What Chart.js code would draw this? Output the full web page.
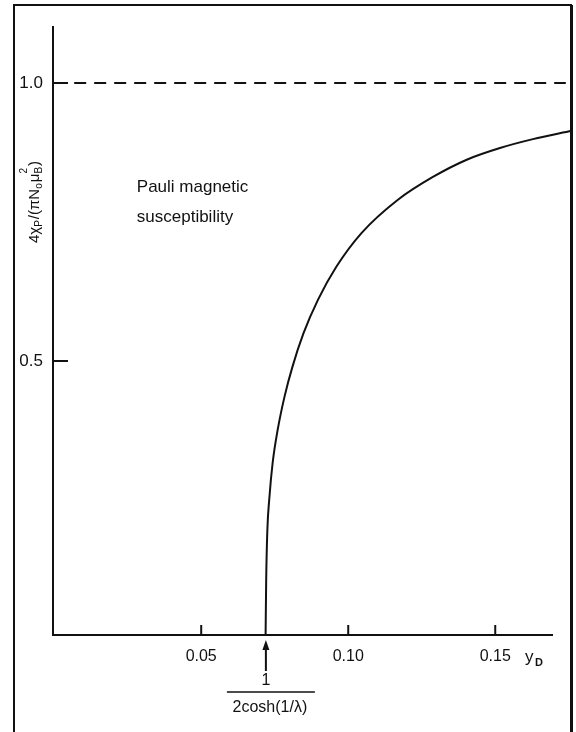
<!DOCTYPE html>
<html>
<head>
<meta charset="utf-8">
<script src="https://cdn.jsdelivr.net/npm/chart.js@4"></script>
<style>
  html, body { margin: 0; background: #fff; overflow: hidden; }
  #wrap { width: 576px; height: 732px; }
</style>
</head>
<body>
<div id="wrap"><canvas id="chart"></canvas></div>
<script>
// --- Data ---
const yD   = [0.0719, 0.0721, 0.0725, 0.0732, 0.0743, 0.0760, 0.0783, 0.0810, 0.0848,
              0.0897, 0.0959, 0.1045, 0.1169, 0.1288, 0.1403, 0.1516, 0.1628, 0.1760];
const chiP = [0.007, 0.106, 0.196, 0.255, 0.317, 0.376, 0.435, 0.489, 0.550,
              0.610, 0.669, 0.730, 0.790, 0.831, 0.862, 0.883, 0.899, 0.914];

const limitX = [0, 0.174];
const limitY = [1.0, 1.0];

const xTicks = [0.05, 0.10, 0.15];
const xTickLabels = ['0.05', '0.10', '0.15'];
const yTicks = [0.5, 1.0];
const yTickLabels = ['0.5', '1.0'];

const onset = 0.072;               // 1 / (2 cosh(1/λ))
const noteLines = ['Pauli magnetic', 'susceptibility'];

const FONT = "'Liberation Sans', 'DejaVu Sans', sans-serif";
const INK = '#111';

// --- Extra drawing: inside ticks, labels, arrow, frame ---
const decor = {
  id: 'decor',
  afterDraw(chart) {
    const ctx = chart.ctx;
    const { left, right, top, bottom } = chart.chartArea;
    const xs = chart.scales.x, ys = chart.scales.y;
    ctx.save();
    ctx.strokeStyle = INK;
    ctx.fillStyle = INK;
    ctx.lineWidth = 2;

    // inside tick marks
    xTicks.forEach(v => {
      const px = xs.getPixelForValue(v);
      ctx.beginPath(); ctx.moveTo(px, bottom); ctx.lineTo(px, bottom - 10); ctx.stroke();
    });
    yTicks.forEach(v => {
      const py = ys.getPixelForValue(v);
      ctx.beginPath(); ctx.moveTo(left, py); ctx.lineTo(left + 15, py); ctx.stroke();
    });

    // x axis title y_D
    ctx.textBaseline = 'alphabetic';
    ctx.textAlign = 'left';
    ctx.font = '17px ' + FONT;
    ctx.fillText('y', right - 27, 662);
    ctx.font = 'bold 11px ' + FONT;
    ctx.fillText('D', right - 17, 666);

    // arrow + 1/(2cosh(1/λ))
    const ax = xs.getPixelForValue(onset);
    ctx.beginPath(); ctx.moveTo(ax, bottom + 12); ctx.lineTo(ax, bottom + 36); ctx.stroke();
    ctx.beginPath();
    ctx.moveTo(ax, bottom + 5); ctx.lineTo(ax - 3.5, bottom + 15); ctx.lineTo(ax + 3.5, bottom + 15);
    ctx.closePath(); ctx.fill();
    ctx.textAlign = 'center';
    ctx.textBaseline = 'middle';
    ctx.font = '16px ' + FONT;
    ctx.fillText('1', ax, 681);
    ctx.lineWidth = 1.5;
    ctx.beginPath(); ctx.moveTo(ax - 39, 692); ctx.lineTo(ax + 49, 692); ctx.stroke();
    ctx.fillText('2cosh(1/λ)', ax + 4, 708);

    // annotation
    ctx.textAlign = 'left';
    ctx.font = '17px ' + FONT;
    ctx.fillText(noteLines[0], xs.getPixelForValue(0.0281), ys.getPixelForValue(0.813));
    ctx.fillText(noteLines[1], xs.getPixelForValue(0.0281), ys.getPixelForValue(0.759));

    // y axis title 4χP/(πNo μB^2), rotated
    const segs = [
      { t: '4χ' }, { t: 'P', sub: true }, { t: '/(πN' }, { t: 'o', sub: true },
      { t: 'μ' }, { t: 'B', sub: true, sup: '2' }, { t: ')' }
    ];
    const big = '15px ' + FONT, small = '10px ' + FONT;
    let w = 0;
    segs.forEach(s => { ctx.font = s.sub ? small : big; s.w = ctx.measureText(s.t).width + (s.sub ? 1 : 0); w += s.w; });
    ctx.save();
    ctx.translate(33, 202);
    ctx.rotate(-Math.PI / 2);
    ctx.textAlign = 'left';
    ctx.textBaseline = 'alphabetic';
    let cx = -w / 2;
    segs.forEach(s => {
      ctx.font = s.sub ? small : big;
      ctx.fillText(s.t, cx, s.sub ? 9 : 6);
      if (s.sup) ctx.fillText(s.sup, cx, -6);
      cx += s.w;
    });
    ctx.restore();

    // outer frame
    ctx.lineWidth = 2;
    ctx.beginPath();
    ctx.moveTo(14, 740); ctx.lineTo(14, 5); ctx.lineTo(572, 5);
    ctx.stroke();
    ctx.lineWidth = 3;
    ctx.beginPath(); ctx.moveTo(571.5, 5); ctx.lineTo(571.5, 740); ctx.stroke();
    ctx.restore();
  }
};

new Chart(document.getElementById('chart'), {
  type: 'line',
  data: {
    datasets: [
      {
        data: yD.map((x, i) => ({ x, y: chiP[i] })),
        borderColor: INK,
        borderWidth: 2,
        pointRadius: 0,
        cubicInterpolationMode: 'monotone',
        fill: false,
        clip: false
      },
      {
        data: limitX.map((x, i) => ({ x, y: limitY[i] })),
        borderColor: INK,
        borderWidth: 2,
        borderDash: [12, 8],
        pointRadius: 0,
        fill: false,
        clip: false
      }
    ]
  },
  options: {
    responsive: true,
    maintainAspectRatio: false,
    animation: false,
    layout: { padding: { left: 0, top: 27, right: 24, bottom: 0 } },
    plugins: { legend: { display: false }, tooltip: { enabled: false } },
    scales: {
      x: {
        type: 'linear',
        min: -0.0004,
        max: 0.1693,
        afterBuildTicks: s => { s.ticks = xTicks.map(v => ({ value: v })); },
        afterFit: s => { s.height = 97; },
        grid: { display: false, drawTicks: false },
        border: { display: true, color: INK, width: 2 },
        ticks: {
          autoSkip: false, maxRotation: 0, padding: 12, color: INK,
          font: { family: FONT, size: 16 },
          callback: (v, i) => xTickLabels[i]
        }
      },
      y: {
        min: 0.0072,
        max: 1.1007,
        afterBuildTicks: s => { s.ticks = yTicks.map(v => ({ value: v })); },
        afterFit: s => { s.width = 53; },
        grid: { display: false, drawTicks: false },
        border: { display: true, color: INK, width: 2 },
        ticks: {
          autoSkip: false, padding: 10, color: INK,
          font: { family: FONT, size: 17 },
          callback: (v, i) => yTickLabels[i]
        }
      }
    }
  },
  plugins: [decor]
});
</script>
</body>
</html>
